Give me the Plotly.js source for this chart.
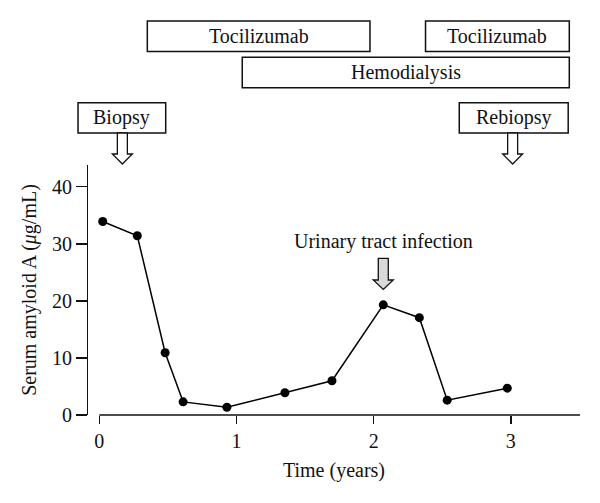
<!DOCTYPE html>
<html>
<head>
<meta charset="utf-8">
<script src="https://cdn.plot.ly/plotly-3.0.1.min.js"></script>
<style>html,body{margin:0;padding:0;background:#fff;}#chart{width:600px;height:503px;}</style>
</head>
<body>
<div id="chart"></div>
<script>
// ---- data ----
const timeYears = [0.025, 0.277, 0.48, 0.611, 0.93, 1.353, 1.696, 2.07, 2.333, 2.536, 2.974];
const serumAmyloidA = [33.9, 31.4, 10.9, 2.3, 1.35, 3.9, 6.0, 19.3, 17.05, 2.6, 4.7];

const xTicks = [0, 1, 2, 3];
const yTicks = [0, 10, 20, 30, 40];

const treatmentNames = ['Tocilizumab', 'Tocilizumab', 'Hemodialysis'];
const treatmentStart = [0.35, 2.378, 1.042];
const treatmentEnd = [1.973, 3.426, 3.426];

const biopsyNames = ['Biopsy', 'Rebiopsy'];
const biopsyTimes = [0.168, 3.013];

const infectionName = 'Urinary tract infection';
const infectionTime = 2.07;

// ---- layout constants ----
const X_RANGE = [-0.0824, 3.504];
const Y_RANGE = [0, 43.8];
const biopsyBoxLeft = [-0.155, 2.624];
const biopsyBoxRight = [0.484, 3.418];
const treatmentRowTop = [1.576, 1.576, 1.4308];
const treatmentRowBottom = [1.454, 1.454, 1.3092];
const BIOPSY_TOP = 1.2492, BIOPSY_BOTTOM = 1.128;

const px = v => (v - X_RANGE[0]) / (X_RANGE[1] - X_RANGE[0]);
const FONT = 'Liberation Serif, Times New Roman, serif';
const INK = '#111';
const FS = 20;

const shapes = [];
const annotations = [];

// x axis line (starts at 0)
shapes.push({type: 'line', xref: 'x', yref: 'paper', x0: 0, x1: X_RANGE[1], y0: 0, y1: 0,
  line: {color: INK, width: 1.5}});

// treatment boxes
treatmentNames.forEach((name, i) => {
  shapes.push({type: 'rect', xref: 'paper', yref: 'paper',
    x0: px(treatmentStart[i]), x1: px(treatmentEnd[i]),
    y0: treatmentRowBottom[i], y1: treatmentRowTop[i],
    line: {color: INK, width: 1.5}, fillcolor: '#fff'});
  annotations.push({xref: 'paper', yref: 'paper',
    x: px((treatmentStart[i] + treatmentEnd[i]) / 2),
    y: (treatmentRowBottom[i] + treatmentRowTop[i]) / 2,
    text: name, showarrow: false, xanchor: 'center', yanchor: 'middle',
    font: {family: FONT, size: FS, color: INK}});
});

// biopsy boxes + hollow arrows
function arrowPath(xc, yTop, yNeck, yTip, halfShaft, halfHead, toX, toY) {
  const pts = [
    [xc - halfShaft, yTop], [xc + halfShaft, yTop], [xc + halfShaft, yNeck],
    [xc + halfHead, yNeck], [xc, yTip], [xc - halfHead, yNeck], [xc - halfShaft, yNeck]
  ];
  return 'M' + pts.map(p => toX(p[0]) + ',' + toY(p[1])).join(' L') + ' Z';
}
const PX_PER_YEAR = 137.2;
biopsyNames.forEach((name, i) => {
  shapes.push({type: 'rect', xref: 'paper', yref: 'paper',
    x0: px(biopsyBoxLeft[i]), x1: px(biopsyBoxRight[i]),
    y0: BIOPSY_BOTTOM, y1: BIOPSY_TOP,
    line: {color: INK, width: 1.5}, fillcolor: '#fff'});
  annotations.push({xref: 'paper', yref: 'paper',
    x: px((biopsyBoxLeft[i] + biopsyBoxRight[i]) / 2),
    y: (BIOPSY_TOP + BIOPSY_BOTTOM) / 2,
    text: name, showarrow: false, xanchor: 'center', yanchor: 'middle',
    font: {family: FONT, size: FS, color: INK}});
  shapes.push({type: 'path', xref: 'paper', yref: 'paper',
    path: arrowPath(biopsyTimes[i], BIOPSY_BOTTOM, 1.044, 1.004,
      5 / PX_PER_YEAR, 10 / PX_PER_YEAR, px, v => v),
    line: {color: INK, width: 1.3}, fillcolor: '#fff'});
});

// infection arrow (grey) + label
shapes.push({type: 'path', xref: 'x', yref: 'y',
  path: arrowPath(infectionTime, 27.45, 23.65, 22.0,
    5 / PX_PER_YEAR, 10 / PX_PER_YEAR, v => v, v => v),
  line: {color: INK, width: 1.3}, fillcolor: '#d9d9d9'});
annotations.push({xref: 'x', yref: 'y', x: infectionTime, y: 30.4,
  text: infectionName, showarrow: false, xanchor: 'center', yanchor: 'middle',
  font: {family: FONT, size: FS, color: INK}});

const trace = {
  x: timeYears, y: serumAmyloidA, type: 'scatter', mode: 'lines+markers',
  line: {color: '#000', width: 1.5},
  marker: {color: '#000', size: 9},
  cliponaxis: false, hoverinfo: 'skip'
};

const layout = {
  width: 600, height: 503,
  margin: {l: 88, r: 20, t: 165, b: 88, pad: 0},
  paper_bgcolor: '#fff', plot_bgcolor: '#fff',
  showlegend: false,
  font: {family: FONT, size: FS, color: INK},
  xaxis: {
    range: X_RANGE, tickvals: xTicks, ticktext: xTicks.map(String),
    ticks: 'outside', ticklen: 8, tickwidth: 1.5, tickcolor: INK,
    showline: false, showgrid: false, zeroline: false,
    title: {text: 'Time (years)', font: {family: FONT, size: FS, color: INK}, standoff: 11}
  },
  yaxis: {
    range: Y_RANGE, tickvals: yTicks, ticktext: yTicks.map(String),
    ticks: 'outside', ticklen: 10.5, tickwidth: 1.5, tickcolor: INK,
    showline: true, linewidth: 1.5, linecolor: INK,
    showgrid: false, zeroline: false,
    title: {text: 'Serum amyloid A (<i>μ</i>g/mL)', font: {family: FONT, size: FS, color: INK}, standoff: 10}
  },
  shapes: shapes,
  annotations: annotations
};

Plotly.newPlot('chart', [trace], layout, {displayModeBar: false, staticPlot: true});
</script>
</body>
</html>
